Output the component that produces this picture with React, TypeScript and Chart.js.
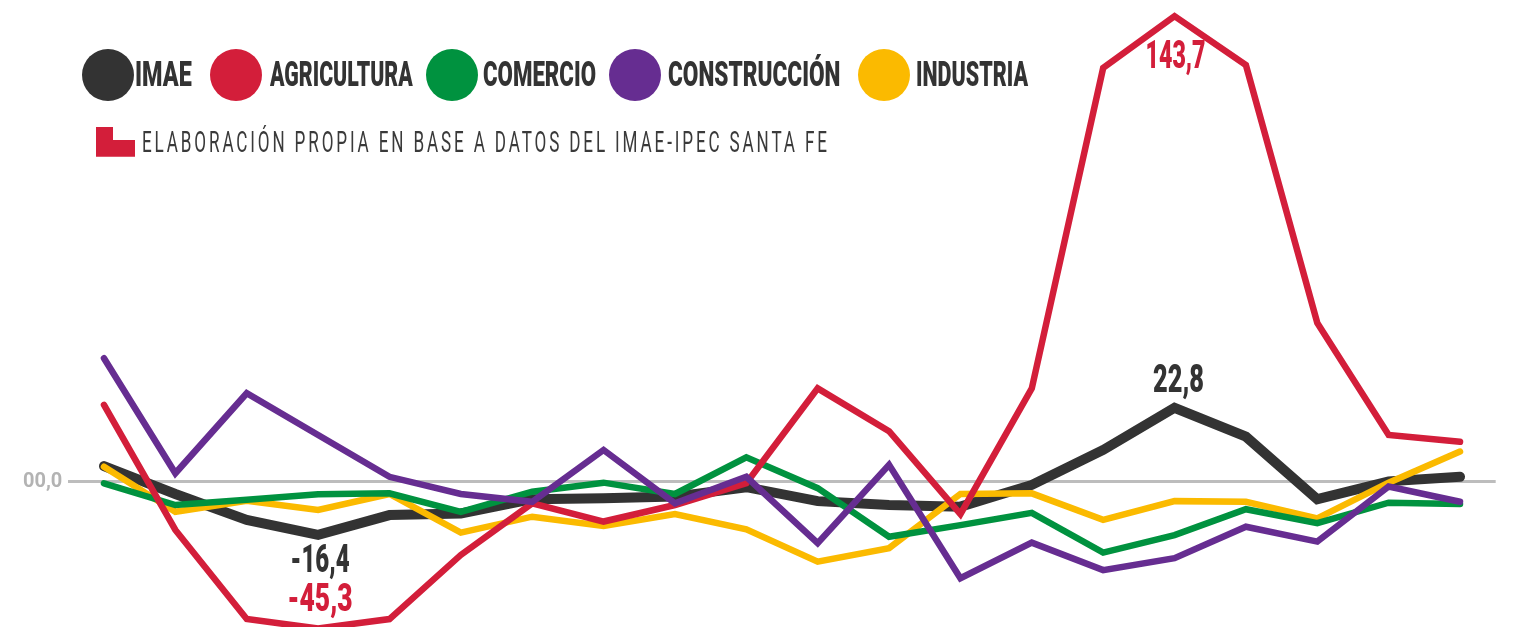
import React, { useEffect, useLayoutEffect, useRef } from "react";
import { Chart, registerables } from "chart.js";

Chart.register(...registerables);

// ---------------- DATA ----------------
const periods = ["1", "2", "3", "4", "5", "6", "7", "8", "9", "10", "11", "12", "13", "14", "15", "16", "17", "18", "19", "20"];
const seriesNames = ["IMAE", "AGRICULTURA", "COMERCIO", "CONSTRUCCIÓN", "INDUSTRIA"];
const imae = [4.8, -3.8, -11.8, -16.4, -10.3, -9.8, -5.4, -5.1, -4.6, -1.7, -6.0, -7.2, -7.7, -1.0, 9.8, 22.8, 13.9, -5.4, 0.1, 1.5];
const agricultura = [23.7, -14.9, -42.4, -45.3, -42.4, -22.6, -6.7, -12.3, -7.2, -0.5, 28.8, 15.6, -10.0, 28.8, 127.7, 143.7, 128.6, 49.0, 14.4, 12.3];
const comercio = [-0.5, -7.2, -5.6, -3.9, -3.6, -9.3, -3.1, -0.3, -3.8, 7.5, -2.0, -17.0, -13.4, -9.6, -21.9, -16.5, -8.5, -12.8, -6.5, -6.9];
const construccion = [38.1, 2.6, 27.3, 14.4, 1.5, -3.8, -6.2, 9.8, -6.7, 1.5, -19.0, 5.2, -29.8, -18.8, -27.3, -23.6, -13.9, -18.5, -1.5, -6.2];
const industria = [4.6, -9.3, -5.9, -8.7, -3.8, -15.7, -10.8, -13.7, -10.0, -14.7, -24.7, -20.5, -3.8, -3.6, -11.8, -6.0, -6.2, -11.3, -0.3, 9.3];
const yTickValues = [0];
const yTickLabels = ["00,0"];
const sourceNote = "ELABORACIÓN PROPIA EN BASE A DATOS DEL IMAE-IPEC SANTA FE";

// ---------------- STYLE ----------------
const Y_MIN = -44.85;
const Y_MAX = 148.67;
const colors = ["#333333", "#d31e3a", "#00923f", "#662d91", "#fbba00"];
const widths = [10, 6.5, 6.5, 6.5, 6.5];
const zOrder = [5, 2, 3, 1, 4];
const TEXT = "#333333";

const legendCircleLeft = [81.7, 210, 426, 608.5, 857.5];
const legendTextLeft = [135, 270, 483, 667.5, 916];
const legendTextWidth = [56.7, 142.7, 113, 172.5, 112];

// value labels: dataset index, point index, offsets, target width
const valueLabels = [
  { ds: 1, idx: 15, dx: 1, dy: 52, w: 60 },
  { ds: 0, idx: 15, dx: 4, dy: -16, w: 51 },
  { ds: 0, idx: 3, dx: 2, dy: 37, w: 59 },
  { ds: 1, idx: 3, dx: 2, dy: -17, w: 65 },
];

const allSeries = [imae, agricultura, comercio, construccion, industria];

function fmt(v: number) {
  return v.toFixed(1).replace(".", ",");
}

const valueLabelPlugin = {
  id: "valueLabels",
  afterDatasetsDraw(chart: any) {
    const ctx = chart.ctx;
    valueLabels.forEach((l) => {
      const meta = chart.getDatasetMeta(l.ds);
      const pt = meta.data[l.idx];
      if (!pt) return;
      const text = fmt(allSeries[l.ds][l.idx]);
      ctx.save();
      ctx.font = "900 38px Roboto";
      ctx.fillStyle = l.ds === 1 ? colors[1] : TEXT;
      ctx.textAlign = "center";
      ctx.textBaseline = "alphabetic";
      const w0 = ctx.measureText(text).width;
      ctx.translate(pt.x + l.dx, pt.y + l.dy);
      ctx.scale(l.w / w0, 1);
      ctx.fillText(text, 0, 0);
      ctx.restore();
    });
  },
};

function FitText(props: { text: string; left: number; top: number; width: number; size: number; weight: number; color: string; spacing?: number }) {
  const ref = useRef<HTMLSpanElement>(null);
  useLayoutEffect(() => {
    const el = ref.current;
    if (!el) return;
    el.style.transform = "none";
    const w = el.getBoundingClientRect().width - (props.spacing || 0);
    el.style.transform = `scaleX(${props.width / w})`;
  }, [props.text, props.width]);
  return (
    <span
      ref={ref}
      style={{
        position: "absolute",
        left: props.left,
        top: props.top,
        whiteSpace: "nowrap",
        transformOrigin: "0 0",
        fontFamily: "Roboto",
        fontSize: props.size,
        fontWeight: props.weight,
        lineHeight: 1,
        color: props.color,
        letterSpacing: props.spacing ? props.spacing + "px" : undefined,
      }}
    >
      {props.text}
    </span>
  );
}

export default function App() {
  const canvasRef = useRef<HTMLCanvasElement>(null);

  useEffect(() => {
    document.body.style.overflow = "hidden";
    const canvas = canvasRef.current;
    if (!canvas) return;
    const chart = new Chart(canvas, {
      type: "line",
      data: {
        labels: periods,
        datasets: seriesNames.map((name, i) => ({
          label: name,
          data: allSeries[i],
          borderColor: colors[i],
          backgroundColor: colors[i],
          borderWidth: widths[i],
          pointRadius: 0,
          pointHoverRadius: 0,
          tension: 0,
          fill: false,
          borderCapStyle: "round",
          borderJoinStyle: "miter",
          order: zOrder[i],
          clip: false,
        })),
      },
      options: {
        animation: false,
        responsive: false,
        devicePixelRatio: 1,
        events: [],
        layout: { padding: { left: 0, right: 20.3, top: 0, bottom: 0 } },
        plugins: {
          legend: { display: false },
          tooltip: { enabled: false },
        },
        scales: {
          x: {
            type: "category",
            offset: true,
            display: false,
          },
          y: {
            type: "linear",
            min: Y_MIN,
            max: Y_MAX,
            border: { display: false },
            grid: {
              color: "#bdbdbd",
              lineWidth: 3,
              drawTicks: false,
            },
            ticks: {
              padding: 6,
              color: "#b3b3b3",
              font: { family: "Roboto", size: 20, weight: "700" },
              callback: (v: any) => {
                const k = yTickValues.indexOf(Number(v));
                return k >= 0 ? yTickLabels[k] : "";
              },
            },
            afterBuildTicks: (s: any) => {
              s.ticks = yTickValues.map((v) => ({ value: v }));
            },
            afterFit: (s: any) => {
              s.width = 68.3;
              s.paddingTop = 0;
              s.paddingBottom = 0;
            },
          },
        },
      },
      plugins: [valueLabelPlugin],
    } as any);
    return () => chart.destroy();
  }, []);

  return (
    <div style={{ position: "absolute", left: 0, top: 0, width: 1516, height: 627, background: "#ffffff", overflow: "hidden" }}>
      <canvas ref={canvasRef} width={1516} height={627} style={{ position: "absolute", left: 0, top: 0 }} />
      {seriesNames.map((name, i) => (
        <React.Fragment key={name}>
          <div
            style={{
              position: "absolute",
              left: legendCircleLeft[i],
              top: 48.5,
              width: 52,
              height: 52,
              borderRadius: "50%",
              background: colors[i],
            }}
          />
          <FitText text={name} left={legendTextLeft[i]} top={56.6} width={legendTextWidth[i]} size={35} weight={900} color={TEXT} />
        </React.Fragment>
      ))}
      <div
        style={{
          position: "absolute",
          left: 96,
          top: 126.7,
          width: 39,
          height: 30,
          background: colors[1],
          clipPath: "polygon(0 0, 17px 0, 17px 13.3px, 39px 13.3px, 39px 30px, 0 30px)",
        }}
      />
      <FitText text={sourceNote} left={141.7} top={126.5} width={685} size={30} weight={400} color="#3a3a3a" spacing={5} />
    </div>
  );
}
